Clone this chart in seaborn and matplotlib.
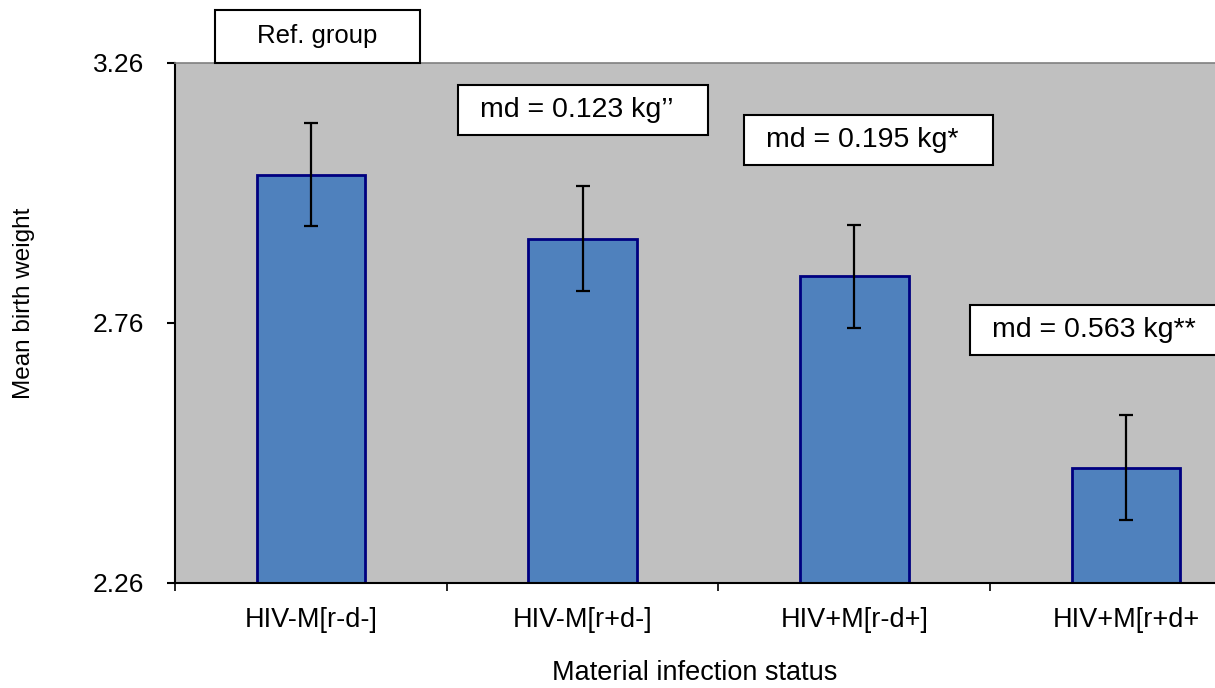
import matplotlib
matplotlib.use("Agg")
import matplotlib.pyplot as plt
import seaborn as sns
import pandas as pd
from matplotlib.patches import Rectangle

# Mean birth weight (kg) by maternal infection status, with error bar half-widths
categories = ["HIV-M[r-d-]", "HIV-M[r+d-]", "HIV+M[r-d+]", "HIV+M[r+d+"]
mean_weight = [3.045, 2.922, 2.850, 2.482]
error_half = [0.099, 0.101, 0.099, 0.101]
y_ticks = [2.26, 2.76, 3.26]

box_labels = ["Ref. group", "md = 0.123 kg\u2019\u2019", "md = 0.195 kg*", "md = 0.563 kg**"]

df = pd.DataFrame({"status": categories, "weight": mean_weight})

sns.set_theme(style="white")
plt.rcParams["font.family"] = ["Liberation Sans", "DejaVu Sans"]
for key in ["text.color", "axes.labelcolor", "xtick.color", "ytick.color"]:
    plt.rcParams[key] = "black"

W, H = 1215, 688
fig = plt.figure(figsize=(W / 100, H / 100), dpi=100)
# the plot area runs past the right edge of the canvas
ax = fig.add_axes([175 / W, 1 - 583 / H, (1262 - 175) / W, 520 / H])
ax.set_facecolor("#C0C0C0")

sns.barplot(data=df, x="status", y="weight", order=categories, color="#4F81BD",
            edgecolor="#000080", linewidth=2, width=0.4, saturation=1,
            errorbar=None, ax=ax)
ax.errorbar(range(len(categories)), mean_weight, yerr=error_half, fmt="none",
            ecolor="black", elinewidth=1.6, capsize=5, capthick=1.6, zorder=5)

ax.set_xlim(-0.5, 3.5)
ax.set_ylim(y_ticks[0], y_ticks[-1])
ax.set_yticks(y_ticks)
ax.set_yticklabels([f"{v:.2f}" for v in y_ticks], fontsize=19)
ax.set_xticks(range(len(categories)))
ax.set_xticklabels(categories, fontsize=19.5)
ax.set_xticks([i - 0.5 for i in range(len(categories) + 1)], minor=True)
ax.tick_params(axis="x", which="major", length=0, pad=17)
ax.tick_params(axis="x", which="minor", length=6, width=1.2, color="black",
               direction="out", bottom=True)
ax.tick_params(axis="y", which="major", length=6, width=1.5, color="black",
               direction="out", left=True, pad=16)

for side in ["left", "bottom"]:
    ax.spines[side].set_visible(True)
    ax.spines[side].set_color("black")
    ax.spines[side].set_linewidth(1.5)
ax.spines["top"].set_color("#808080")
ax.spines["top"].set_linewidth(1.2)
ax.spines["right"].set_visible(False)

ax.set_xlabel("Material infection status", fontsize=19.5, va="baseline")
ax.set_ylabel("Mean birth weight", fontsize=17.5)
ax.xaxis.set_label_coords((695 - 175) / 1087, (583 - 680) / 520)
ax.yaxis.set_label_coords((35 - 175) / 1087, (583 - 303) / 520)

# annotation boxes: (left, top, right, bottom) in pixels, text alignment, size
boxes = [
    (215, 10, 420, 63, "center", 18.5),
    (458, 85, 708, 135, "left", 20.5),
    (744, 115, 993, 165, "left", 20.5),
    (970, 305, 1240, 355, "left", 20.5),
]
for (x0, y0, x1, y1, ha, fs), label in zip(boxes, box_labels):
    rect = Rectangle((x0 / W, 1 - y1 / H), (x1 - x0) / W, (y1 - y0) / H,
                     transform=fig.transFigure, facecolor="white",
                     edgecolor="black", linewidth=1.5, zorder=10)
    fig.patches.append(rect)
    tx = (x0 + x1) / 2 if ha == "center" else x0 + 22
    fig.text(tx / W, 1 - (y0 + y1) / 2 / H, label, ha=ha, va="center",
             fontsize=fs, color="black", zorder=11)

fig.savefig("out.png", dpi=100)
